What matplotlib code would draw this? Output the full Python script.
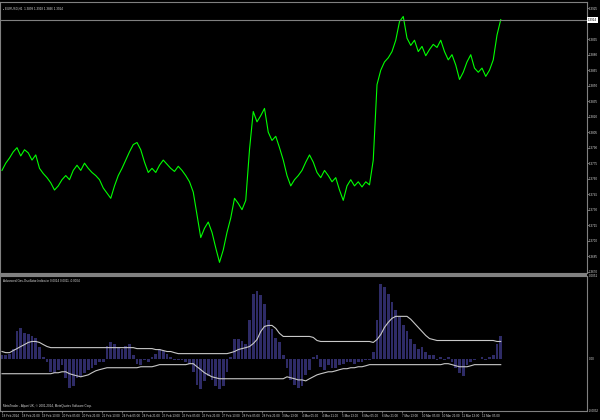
import matplotlib
matplotlib.use("Agg")
import matplotlib.pyplot as plt
from matplotlib.patches import Rectangle

# --- data (one sample every 3 H1 bars) ---
close = [
    1.3768, 1.3775, 1.3780, 1.3786, 1.3790, 1.3782, 1.3788, 1.3785, 1.3778, 1.3783,
    1.3770, 1.3765, 1.3761, 1.3756, 1.3749, 1.3753, 1.3759, 1.3763, 1.3759, 1.3768,
    1.3773, 1.3768, 1.3775, 1.3770, 1.3766, 1.3763, 1.3759, 1.3751, 1.3746, 1.3741,
    1.3753, 1.3763, 1.3770, 1.3778, 1.3786, 1.3793, 1.3795, 1.3788, 1.3776, 1.3766,
    1.3770, 1.3766, 1.3773, 1.3778, 1.3774, 1.3770, 1.3767, 1.3772, 1.3768, 1.3763,
    1.3757, 1.3747, 1.3725, 1.3703, 1.3712, 1.3718, 1.3708, 1.3693, 1.3679, 1.3691,
    1.3708, 1.3722, 1.3741, 1.3736, 1.3730, 1.3739, 1.3788, 1.3825, 1.3815, 1.3821,
    1.3828, 1.3805, 1.3797, 1.3801, 1.3790, 1.3778, 1.3763, 1.3753, 1.3759, 1.3763,
    1.3768, 1.3776, 1.3783, 1.3776, 1.3766, 1.3761, 1.3768, 1.3763, 1.3757, 1.3761,
    1.3749, 1.3739, 1.3753, 1.3759, 1.3753, 1.3757, 1.3752, 1.3757, 1.3754, 1.3778,
    1.3851, 1.3865, 1.3873, 1.3877, 1.3883, 1.3894, 1.3912, 1.3917, 1.3896, 1.3889,
    1.3894, 1.3883, 1.3888, 1.3879, 1.3885, 1.3890, 1.3887, 1.3894, 1.3883, 1.3875,
    1.3880, 1.3870, 1.3856, 1.3863, 1.3873, 1.3880, 1.3867, 1.3863, 1.3867, 1.3859,
    1.3865, 1.3875, 1.3899, 1.3914,
]

hist = [
    0.0002, 0.0002, 0.0003, 0.0006, 0.0017, 0.0019, 0.0016, 0.0015, 0.0014, 0.0013,
    0.0007, 0.0001, -0.0002, -0.0008, -0.0009, -0.0007, -0.0004, -0.0012, -0.0018, -0.0017,
    -0.0012, -0.0011, -0.0009, -0.0007, -0.0006, -0.0004, -0.0002, -0.0002, 0.0008, 0.0010,
    0.0009, 0.0007, 0.0006, 0.0008, 0.0009, 0.0002, -0.0003, -0.0004, -0.0001, -0.0002,
    0.0001, 0.0003, 0.0006, 0.0005, 0.0003, 0.0001, -0.0001, -0.0001, -0.0001, -0.0002,
    -0.0003, -0.0008, -0.0016, -0.0019, -0.0014, -0.0011, -0.0013, -0.0017, -0.0019, -0.0017,
    -0.0008, 0.0001, 0.0012, 0.0012, 0.0011, 0.0009, 0.0024, 0.0040, 0.0042, 0.0039,
    0.0034, 0.0024, 0.0018, 0.0013, 0.0010, 0.0002, -0.0006, -0.0013, -0.0016, -0.0018,
    -0.0017, -0.0010, -0.0007, 0.0001, 0.0002, -0.0005, -0.0007, -0.0004, -0.0006, -0.0006,
    -0.0004, -0.0003, -0.0002, -0.0002, -0.0003, -0.0002, -0.0002, -0.0001, -0.0001, 0.0004,
    0.0024, 0.0046, 0.0044, 0.0040, 0.0035, 0.0030, 0.0026, 0.0021, 0.0017, 0.0012,
    0.0009, 0.0006, 0.0007, 0.0004, 0.0002, 0.0002, -0.0001, 0.0001, -0.0001, 0.0001,
    -0.0002, -0.0006, -0.0009, -0.0011, -0.0004, -0.0002, -0.0001, 0.0000, 0.0001, -0.0001,
    0.0001, 0.0002, 0.0009, 0.0014,
]

upper = [
    0.00044, 0.00037, 0.00037, 0.00050, 0.00062, 0.00075, 0.00087, 0.00100, 0.00106, 0.00106,
    0.00100, 0.00087, 0.00075, 0.00068, 0.00068, 0.00068, 0.00068, 0.00068, 0.00068, 0.00068,
    0.00068, 0.00068, 0.00068, 0.00068, 0.00068, 0.00068, 0.00068, 0.00068, 0.00068, 0.00068,
    0.00068, 0.00068, 0.00068, 0.00068, 0.00068, 0.00068, 0.00062, 0.00062, 0.00062, 0.00062,
    0.00062, 0.00056, 0.00056, 0.00050, 0.00044, 0.00044, 0.00037, 0.00031, 0.00031, 0.00031,
    0.00031, 0.00031, 0.00031, 0.00031, 0.00031, 0.00031, 0.00031, 0.00031, 0.00031, 0.00031,
    0.00031, 0.00037, 0.00044, 0.00056, 0.00062, 0.00068, 0.00075, 0.00093, 0.00118, 0.00168,
    0.00199, 0.00205, 0.00205, 0.00187, 0.00156, 0.00137, 0.00137, 0.00137, 0.00137, 0.00137,
    0.00137, 0.00137, 0.00137, 0.00131, 0.00112, 0.00106, 0.00106, 0.00106, 0.00106, 0.00106,
    0.00106, 0.00106, 0.00106, 0.00106, 0.00106, 0.00106, 0.00106, 0.00106, 0.00106, 0.00100,
    0.00118, 0.00149, 0.00193, 0.00224, 0.00249, 0.00261, 0.00261, 0.00261, 0.00261, 0.00243,
    0.00218, 0.00193, 0.00168, 0.00143, 0.00124, 0.00118, 0.00112, 0.00112, 0.00112, 0.00112,
    0.00112, 0.00112, 0.00112, 0.00112, 0.00112, 0.00112, 0.00112, 0.00112, 0.00112, 0.00112,
    0.00112, 0.00112, 0.00106, 0.00106,
]

lower = [
    -0.00093, -0.00093, -0.00093, -0.00093, -0.00093, -0.00093, -0.00093, -0.00093, -0.00093, -0.00093,
    -0.00093, -0.00093, -0.00093, -0.00093, -0.00087, -0.00087, -0.00081, -0.00081, -0.00093, -0.00100,
    -0.00106, -0.00112, -0.00106, -0.00100, -0.00087, -0.00075, -0.00068, -0.00062, -0.00056, -0.00056,
    -0.00056, -0.00056, -0.00056, -0.00056, -0.00056, -0.00056, -0.00056, -0.00050, -0.00050, -0.00050,
    -0.00050, -0.00044, -0.00037, -0.00037, -0.00037, -0.00037, -0.00037, -0.00037, -0.00037, -0.00037,
    -0.00031, -0.00031, -0.00050, -0.00068, -0.00087, -0.00100, -0.00112, -0.00118, -0.00124, -0.00124,
    -0.00124, -0.00124, -0.00124, -0.00124, -0.00124, -0.00124, -0.00124, -0.00124, -0.00124, -0.00124,
    -0.00124, -0.00124, -0.00124, -0.00124, -0.00124, -0.00124, -0.00112, -0.00118, -0.00124, -0.00131,
    -0.00131, -0.00137, -0.00124, -0.00112, -0.00100, -0.00093, -0.00087, -0.00081, -0.00081, -0.00075,
    -0.00068, -0.00062, -0.00062, -0.00056, -0.00056, -0.00050, -0.00050, -0.00044, -0.00037, -0.00037,
    -0.00037, -0.00037, -0.00037, -0.00037, -0.00037, -0.00037, -0.00037, -0.00037, -0.00037, -0.00037,
    -0.00037, -0.00037, -0.00037, -0.00037, -0.00037, -0.00037, -0.00037, -0.00037, -0.00031, -0.00031,
    -0.00037, -0.00044, -0.00050, -0.00050, -0.00050, -0.00044, -0.00037, -0.00037, -0.00037, -0.00037,
    -0.00037, -0.00037, -0.00037, -0.00037,
]

price_ticks = [1.3925, 1.3895, 1.3880, 1.3865, 1.3850, 1.3835, 1.3820, 1.3805, 1.3790,
               1.3775, 1.3760, 1.3745, 1.3730, 1.3715, 1.3700, 1.3685, 1.3670]
time_labels = ["18 Feb 2014", "18 Feb 21:00", "19 Feb 13:00", "20 Feb 05:00", "20 Feb 21:00",
               "21 Feb 13:00", "24 Feb 05:00", "24 Feb 21:00", "25 Feb 13:00", "26 Feb 05:00",
               "26 Feb 21:00", "27 Feb 13:00", "28 Feb 05:00", "28 Feb 21:00", "3 Mar 13:00",
               "4 Mar 05:00", "4 Mar 21:00", "5 Mar 13:00", "6 Mar 05:00", "6 Mar 21:00",
               "7 Mar 13:00", "10 Mar 05:00", "10 Mar 21:00", "11 Mar 13:00", "12 Mar 05:00"]

bars = [3 * i for i in range(len(close))]
label_bars = [16 * i for i in range(len(time_labels))]

plt.rcParams['font.family'] = ['Liberation Sans', 'DejaVu Sans']
FG = '#d8d8d8'
EDGE = '#808080'
FS = 2.2
W, H = 600, 420


def px_rect(x0, y0, x1, y1):
    return [x0 / W, 1 - y1 / H, (x1 - x0) / W, (y1 - y0) / H]


fig = plt.figure(figsize=(6, 4.2), dpi=100, facecolor='black')

# Panel 1: price
ax = fig.add_axes(px_rect(0, 2, 587, 273))
ax.set_facecolor('black')
ax.plot(bars, close, color='#00ff00', linewidth=0.8)
ax.axhline(close[-1], color=EDGE, linewidth=0.8)
ax.set_xlim(-1.6, 468)
ax.set_ylim(1.36687, 1.3931)
ax.yaxis.tick_right()
ax.set_yticks(price_ticks)
ax.set_yticklabels([f'{p:.4f}' for p in price_ticks])
ax.tick_params(axis='y', colors=EDGE, labelcolor=FG, labelsize=FS, length=1.2, width=0.6, pad=0.3)
ax.set_xticks([])
for s in ax.spines.values():
    s.set_color(EDGE)
    s.set_linewidth(0.8)
ax.text(3 / 587, 1 - 7 / 271, f'\u25aa EURUSD,H1  1.3899 1.3918 1.3896 {close[-1]:.4f}',
        transform=ax.transAxes, color=FG, fontsize=FS, va='center', ha='left')

# current price marker on the scale
fig.text(588 / W, 1 - 20 / H, f'{close[-1]:.4f}', color='black', fontsize=FS, va='center', ha='left',
         bbox=dict(boxstyle='square,pad=0.2', facecolor='white', edgecolor='none'))

# separator between panels
fig.patches.append(Rectangle((0, 1 - 276 / H), 587 / W, 3 / H, transform=fig.transFigure,
                             facecolor=EDGE, edgecolor='none'))

# Panel 2: oscillator
ax2 = fig.add_axes(px_rect(0, 276, 587, 411))
ax2.set_facecolor('black')
ax2.bar(bars, hist, width=2.2, color='#2e2b66', linewidth=0)
ax2.plot(bars, upper, color='#c8c8c8', linewidth=0.8)
ax2.plot(bars, lower, color='#c8c8c8', linewidth=0.8)
ax2.set_xlim(-1.6, 468)
ax2.set_ylim(-0.00323, 0.0051)
ax2.set_yticks([])
ax2.set_xticks(label_bars)
ax2.set_xticklabels(time_labels, ha='left')
ax2.tick_params(axis='x', colors=EDGE, labelcolor=FG, labelsize=FS, length=1.5, width=0.6, pad=0.5)
for s in ax2.spines.values():
    s.set_color(EDGE)
    s.set_linewidth(0.8)
ax2.text(3 / 587, 1 - 3 / 135, f'Advanced-Gas-Oscillator-Indicator {hist[-1]:.4f} {upper[-1]:.4f} {lower[-1]:.4f}',
         transform=ax2.transAxes, color=FG, fontsize=FS, va='top', ha='left')
ax2.text(3 / 587, 3 / 135, 'MetaTrader - Alpari UK, \u00a9 2001-2014, MetaQuotes Software Corp.',
         transform=ax2.transAxes, color=FG, fontsize=FS, va='bottom', ha='left')
for val, txt in [(0.0051, '0.0051'), (0.0, '0.00'), (-0.00323, '-0.0032')]:
    ax2.annotate(txt, xy=(1, val), xycoords=('axes fraction', 'data'), xytext=(1, 0),
                 textcoords='offset points', color=FG, fontsize=FS, va='center', ha='left',
                 annotation_clip=False)

fig.savefig('out.png', dpi=100, facecolor='black')
